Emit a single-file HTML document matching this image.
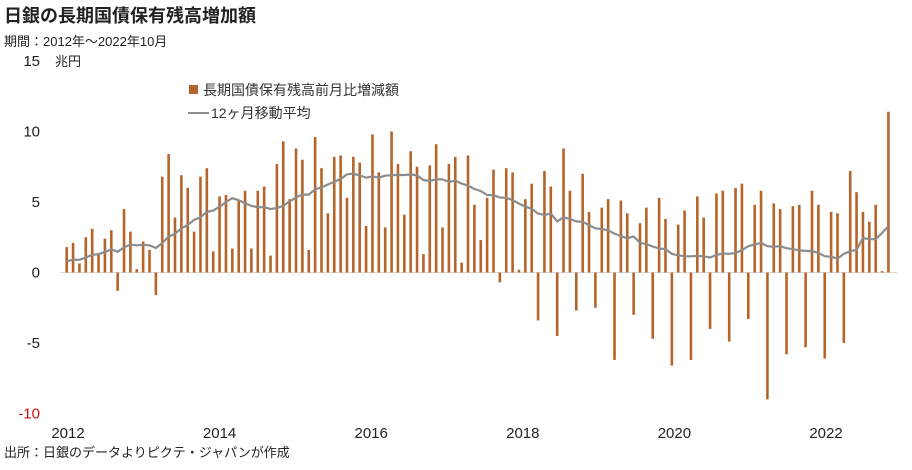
<!DOCTYPE html>
<html><head><meta charset="utf-8"><style>
body{margin:0;background:#fff;font-family:"Liberation Sans","Noto Sans CJK JP",sans-serif;}
#wrap{position:relative;width:912px;height:470px;overflow:hidden;}
</style></head><body>
<div id="wrap">
<svg id="chart" width="912" height="470" font-family="Liberation Sans, Noto Sans CJK JP, sans-serif">
<text x="4" y="22" font-size="18" font-weight="bold" fill="#222">日銀の長期国債保有残高増加額</text>
<text x="4" y="46" font-size="13" fill="#222">期間：2012年～2022年10月</text>
<text x="55" y="66" font-size="13" fill="#222">兆円</text>
<text x="4" y="457" font-size="13" fill="#222">出所：日銀のデータよりピクテ・ジャパンが作成</text>
<rect x="189" y="85" width="9" height="9" fill="#b5652a"/>
<text x="203" y="95" font-size="14" fill="#333">長期国債保有残高前月比増減額</text>
<line x1="188" y1="113" x2="209" y2="113" stroke="#8c8c8c" stroke-width="2"/>
<text x="211" y="118" font-size="14" fill="#333">12ヶ月移動平均</text>
<g id="axes"></g><g id="bars"></g><g id="line"></g>
</svg>
</div>
<script>
const values = [1.8,2.1,0.64,2.5,3.1,1.3,2.4,3.0,-1.3,4.5,2.9,0.24,
2.2,1.6,-1.6,6.8,8.4,3.9,6.9,6.0,2.9,6.8,7.4,1.5,
5.4,5.5,1.7,5.1,5.8,1.7,5.8,6.1,1.2,7.7,9.3,5.2,
8.8,8.0,1.6,9.6,7.4,4.2,8.2,8.3,5.3,8.2,7.8,3.3,
9.8,7.1,3.2,10.0,7.7,4.1,8.6,7.5,1.3,7.6,9.1,3.2,
7.7,8.2,0.7,8.3,4.8,2.3,5.3,7.3,-0.7,7.4,7.1,0.2,
5.2,6.3,-3.4,7.2,6.1,-4.5,8.8,5.8,-2.7,7.0,4.3,-2.5,
4.6,5.2,-6.2,5.1,4.2,-3.0,3.5,4.6,-4.7,5.3,3.8,-6.6,
3.4,4.4,-6.2,5.4,3.9,-4.0,5.6,5.8,-4.9,6.0,6.3,-3.3,
4.8,5.8,-9.0,4.9,4.5,-5.8,4.7,4.8,-5.3,5.8,4.8,-6.1,
4.3,4.2,-5.0,7.2,5.7,4.3,3.6,4.8,0.1,11.4];
const prev2011 = [0.7,0.7,0.7,0.7,0.7,0.7,0.7,0.7,0.7,0.7,0.7];
const yTicks = [15,10,5,0,-5,-10];
const xTickYears = ["2012","2014","2016","2018","2020","2022"];
const NS='http://www.w3.org/2000/svg';
const x0=66.7, dx=6.37;
const xOf = i => x0 + i*dx;
const yOf = v => 272.5 - v*14.1;
const axes=document.getElementById('axes'), bars=document.getElementById('bars'), lineG=document.getElementById('line');
function mk(tag,attrs,parent){const e=document.createElementNS(NS,tag);for(const k in attrs)e.setAttribute(k,attrs[k]);parent.appendChild(e);return e;}
yTicks.forEach(t=>{
  const e=mk('text',{x:40,y:yOf(t)+5,'font-size':15,'text-anchor':'end',fill:t<=-10?'#d01010':'#222'},axes);
  e.textContent=String(t);
  
  
});
xTickYears.forEach((y,k)=>{
  const e=mk('text',{x:68+k*151.6,y:438,'font-size':15,'text-anchor':'middle',fill:'#222'},axes);
  e.textContent=y;
  
  
});
const zl=mk('line',{x1:60,x2:897,y1:yOf(0),y2:yOf(0),stroke:'#d9d9d9','stroke-width':1},axes);


values.forEach((v,i)=>{
  const y=Math.min(yOf(v),yOf(0)), h=Math.abs(yOf(v)-yOf(0));
  const r=mk('rect',{x:xOf(i)-1.3,y:y,width:2.6,height:Math.max(h,0.5),fill:'#b5652a'},bars);
  
  
});
const all=prev2011.concat(values);
let pts=[];
values.forEach((v,i)=>{
  let s=0;for(let j=i;j<i+12;j++)s+=all[j];
  pts.push(xOf(i).toFixed(1)+','+yOf(s/12).toFixed(1));
});
const pl=mk('polyline',{points:pts.join(' '),fill:'none',stroke:'#8c8c8c','stroke-width':2.2,'stroke-linejoin':'round'},lineG);


</script>
</body></html>
